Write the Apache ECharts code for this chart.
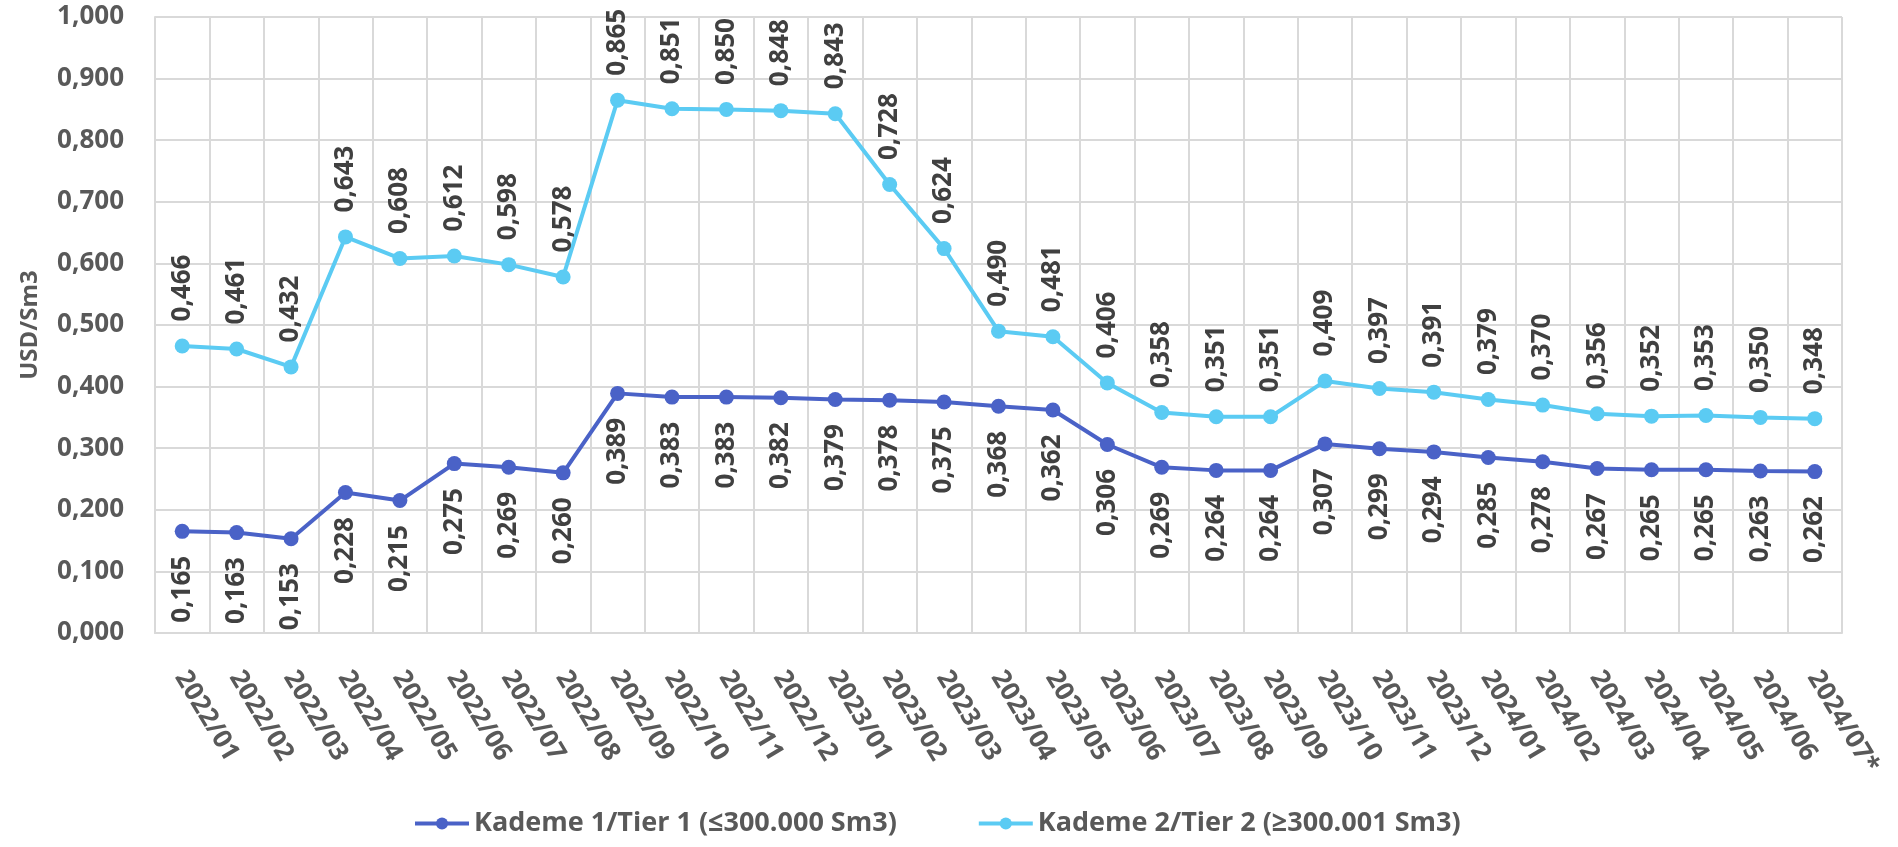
<!DOCTYPE html>
<html>
<head>
<meta charset="utf-8">
<title>Kademe fiyatları</title>
<script src="https://cdn.jsdelivr.net/npm/echarts@6/dist/echarts.min.js"></script>
<style>
  html, body { margin: 0; padding: 0; background: #fff; }
  #main { width: 1898px; height: 847px; }
</style>
</head>
<body>
<div id="main"></div>
<script>
// aylar
var months = [
  '2022/01', '2022/02', '2022/03', '2022/04', '2022/05', '2022/06', '2022/07', '2022/08',
  '2022/09', '2022/10', '2022/11', '2022/12', '2023/01', '2023/02', '2023/03', '2023/04',
  '2023/05', '2023/06', '2023/07', '2023/08', '2023/09', '2023/10', '2023/11', '2023/12',
  '2024/01', '2024/02', '2024/03', '2024/04', '2024/05', '2024/06', '2024/07*'
];

// Kademe 1 (<=300.000 Sm3)
var tier1 = [
  0.165, 0.163, 0.153, 0.228, 0.215, 0.275, 0.269, 0.260,
  0.389, 0.383, 0.383, 0.382, 0.379, 0.378, 0.375, 0.368,
  0.362, 0.306, 0.269, 0.264, 0.264, 0.307, 0.299, 0.294,
  0.285, 0.278, 0.267, 0.265, 0.265, 0.263, 0.262
];

// Kademe 2 (>=300.001 Sm3)
var tier2 = [
  0.466, 0.461, 0.432, 0.643, 0.608, 0.612, 0.598, 0.578,
  0.865, 0.851, 0.850, 0.848, 0.843, 0.728, 0.624, 0.490,
  0.481, 0.406, 0.358, 0.351, 0.351, 0.409, 0.397, 0.391,
  0.379, 0.370, 0.356, 0.352, 0.353, 0.350, 0.348
];

var tierNames = ['Kademe 1/Tier 1 (≤300.000 Sm3)', 'Kademe 2/Tier 2 (≥300.001 Sm3)'];

function fmt(v) {
  return Number(v).toFixed(3).replace('.', ',');
}

var FONT = '"Open Sans", sans-serif';
var gridColor = '#d9d9d9';

var chart = echarts.init(document.getElementById('main'), null, { renderer: 'canvas' });

function lineSeries(name, data, color, below) {
  return {
    name: name,
    type: 'line',
    data: data,
    symbol: 'circle',
    symbolSize: 15,
    lineStyle: { color: color, width: 4 },
    itemStyle: { color: color },
    label: {
      show: true,
      position: below ? 'bottom' : 'top',
      distance: 17,
      rotate: 90,
      align: below ? 'right' : 'left',
      verticalAlign: 'middle',
      color: '#404040',
      fontFamily: FONT,
      fontWeight: 'bold',
      fontSize: 26,
      formatter: function (p) { return fmt(p.value); }
    },
    emphasis: { disabled: true },
    animation: false
  };
}

var option = {
  backgroundColor: '#fff',
  textStyle: { fontFamily: FONT },
  grid: { left: 155, top: 17, right: 56, bottom: 214 },
  legend: {
    left: 408,
    top: 805,
    itemWidth: 54,
    itemHeight: 15,
    itemGap: 80,
    lineStyle: { width: 4 },
    textStyle: { color: '#595959', fontFamily: FONT, fontWeight: 'bold', fontSize: 27 },
    data: tierNames
  },
  xAxis: {
    type: 'category',
    data: months,
    boundaryGap: true,
    axisLine: { lineStyle: { color: gridColor, width: 2 } },
    axisTick: { show: false },
    splitLine: { show: true, lineStyle: { color: gridColor, width: 2 } },
    axisLabel: {
      interval: 0,
      rotate: -59,
      margin: 17,
      padding: [0, 0, 0, 19],
      align: 'left',
      verticalAlign: 'top',
      color: '#595959',
      fontFamily: FONT,
      fontWeight: 'bold',
      fontSize: 26
    }
  },
  yAxis: {
    type: 'value',
    min: 0,
    max: 1,
    interval: 0.1,
    name: 'USD/Sm3',
    nameLocation: 'middle',
    nameGap: 113,
    nameRotate: 90,
    nameTextStyle: { color: '#595959', fontFamily: FONT, fontWeight: 'bold', fontSize: 24 },
    axisLine: { show: true, lineStyle: { color: gridColor, width: 2 } },
    axisTick: { show: false },
    splitLine: { lineStyle: { color: gridColor, width: 2 } },
    axisLabel: {
      margin: 31,
      color: '#595959',
      fontFamily: FONT,
      fontWeight: 'bold',
      fontSize: 26,
      formatter: fmt
    }
  },
  series: [
    lineSeries(tierNames[0], tier1, '#4A62C7', true),
    lineSeries(tierNames[1], tier2, '#5BCBF3', false)
  ]
};

chart.setOption(option);
</script>
</body>
</html>
